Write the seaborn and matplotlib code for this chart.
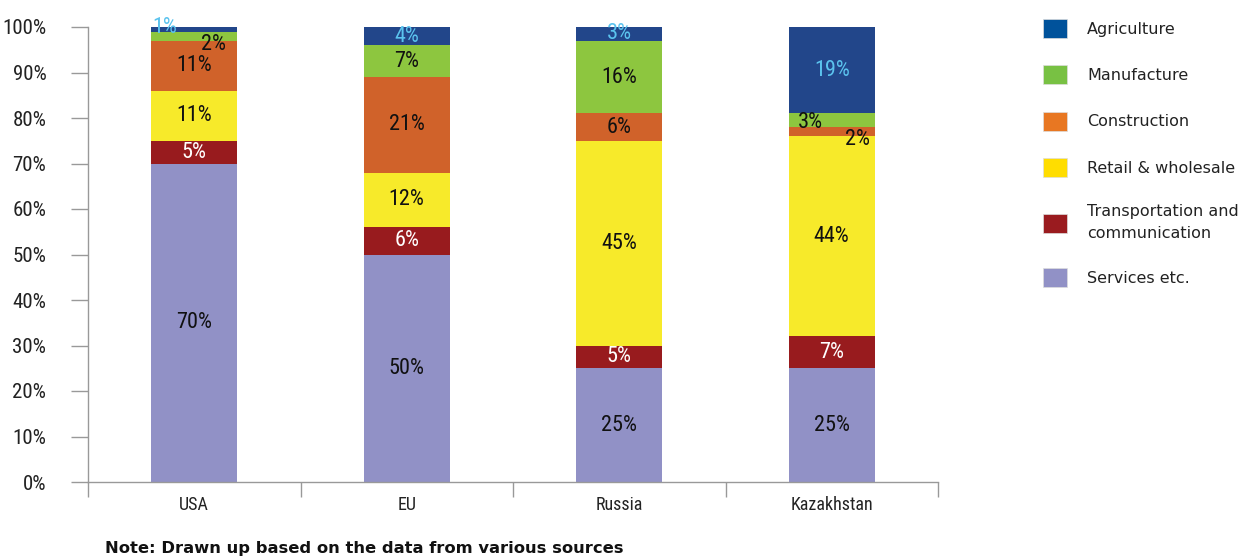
import matplotlib
matplotlib.use("Agg")
import matplotlib.pyplot as plt
import seaborn as sns
import pandas as pd
import numpy as np
from matplotlib.patches import Patch
from matplotlib import font_manager
from matplotlib.font_manager import FontProperties

countries = ["USA", "EU", "Russia", "Kazakhstan"]
sectors = ["Agriculture", "Manufacture", "Construction", "Retail & wholesale",
           "Transportation and\ncommunication", "Services etc."]
agriculture = [1, 4, 3, 19]
manufacture = [2, 7, 16, 3]
construction = [11, 21, 6, 2]
retail = [11, 12, 45, 44]
transport = [5, 6, 5, 7]
services = [70, 50, 25, 25]
yticks = [0, 10, 20, 30, 40, 50, 60, 70, 80, 90, 100]
note = "Note: Drawn up based on the data from various sources"

bar_colors = ["#22468a", "#8dc63f", "#d0622a", "#f7ea2a", "#981b1e", "#9191c6"]
legend_colors = ["#00529b", "#78c143", "#e87722", "#ffdd00", "#9a1b1f", "#9191c6"]
label_colors = ["#5bc3ee", "#111111", "#111111", "#111111", "#ffffff", "#111111"]

sns.set_theme(style="white")
plt.rcParams["font.family"] = ["DejaVu Sans"]

# pick a condensed/narrow font if one is installed
cond_fname = None
for f in font_manager.fontManager.ttflist:
    nm = f.fname.lower()
    if ("condensed" in nm or "narrow" in nm) and "bold" not in nm and "oblique" not in nm and "italic" not in nm:
        cond_fname = f.fname
        if "liberation" in nm:
            break


def cprop(size):
    if cond_fname:
        return FontProperties(fname=cond_fname, size=size)
    return FontProperties(family="DejaVu Sans", size=size)


fig = plt.figure(figsize=(12.47, 5.58), dpi=100)
ax = fig.add_axes([88/1247, 1-482/558, 850/1247, 455/558])

# bottom-to-top stacking order
layers = [services, transport, retail, construction, manufacture, agriculture]
layer_cols = bar_colors[::-1]
layer_lbl_cols = label_colors[::-1]
cum = np.cumsum(np.array(layers, dtype=float), axis=0)

# draw cumulative tops from highest to lowest
for i in range(len(layers) - 1, -1, -1):
    df = pd.DataFrame({"country": countries, "value": cum[i]})
    sns.barplot(data=df, x="country", y="value", order=countries, color=layer_cols[i],
                width=0.405, saturation=1, ax=ax, linewidth=0, errorbar=None)

# value labels; offsets for small crowded segments: (layer, country)->(dx, dy)
offsets = {(5, 0): (-0.14, 0.3), (4, 0): (0.09, -1.8), (4, 3): (-0.1, -0.5), (3, 3): (0.12, -1.8)}
for i, vals in enumerate(layers):
    for j, v in enumerate(vals):
        bottom = cum[i][j] - v
        yc = bottom + v / 2
        dx, dy = offsets.get((i, j), (0, 0))
        ax.text(j + dx, yc + dy, f"{v}%", ha="center", va="center",
                fontproperties=cprop(16), color=layer_lbl_cols[i])

ax.set_ylim(0, 100)
ax.set_xlim(-0.5, 3.5)
ax.set_yticks(yticks)
ax.set_yticklabels([f"{t}%" for t in yticks], color="#222222")
for t in ax.get_yticklabels():
    t.set_fontproperties(cprop(15))
ax.set_xticks(range(len(countries)))
ax.set_xticklabels(countries, color="#222222")
for t in ax.get_xticklabels():
    t.set_fontproperties(cprop(13))
ax.set_xticks(np.arange(-0.5, 4, 1), minor=True)
ax.tick_params(axis="y", which="major", left=True, length=12, width=1, color="#999999", pad=18)
ax.tick_params(axis="x", which="major", bottom=False, length=0, pad=10)
ax.tick_params(axis="x", which="minor", bottom=True, length=11, width=1, color="#999999")
ax.set_xlabel("")
ax.set_ylabel("")
for s in ["top", "right"]:
    ax.spines[s].set_visible(False)
for s in ["left", "bottom"]:
    ax.spines[s].set_color("#999999")
    ax.spines[s].set_linewidth(1)

handles = [Patch(facecolor=c, edgecolor="#dddddd", linewidth=0.5) for c in legend_colors]
leg = fig.legend(handles, sectors, loc="upper left", bbox_to_anchor=(1029/1247, 1-5/558),
                 frameon=False, handlelength=1.45, handleheight=1.45,
                 labelspacing=1.7, handletextpad=1.3,
                 prop={"family": "DejaVu Sans", "size": 11.5})
for t in leg.get_texts():
    t.set_color("#222222")
    t.set_linespacing(1.6)

fig.text(105/1247, 1-548/558, note, fontsize=11.8, fontweight="bold", color="#111111",
         ha="left", va="center")

fig.savefig("out.png", dpi=100)
